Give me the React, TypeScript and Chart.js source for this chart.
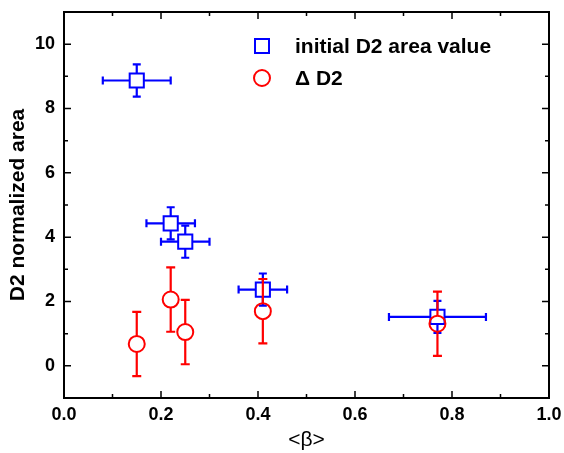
import React, { useEffect, useRef } from "react";
import { Chart, registerables } from "chart.js";

Chart.register(...registerables);

// ---- data ----
const initialX = [0.15, 0.22, 0.25, 0.41, 0.77];
const initialY = [8.87, 4.43, 3.86, 2.37, 1.52];
const initialXErr = [0.07, 0.05, 0.05, 0.05, 0.1];
const initialYErr = [0.5, 0.5, 0.5, 0.5, 0.5];

const deltaX = [0.15, 0.22, 0.25, 0.41, 0.77];
const deltaY = [0.68, 2.06, 1.05, 1.7, 1.31];
const deltaXErr = [0, 0, 0, 0, 0];
const deltaYErr = [1.0, 1.0, 1.0, 1.0, 1.0];

const seriesLabels = ["initial D2 area value", "\u0394 D2"];
const xTicks = [0, 0.2, 0.4, 0.6, 0.8, 1.0];
const xMinorTicks = [0.1, 0.3, 0.5, 0.7, 0.9];
const yTicks = [0, 2, 4, 6, 8, 10];
const yMinorTicks = [1, 3, 5, 7, 9];

const FONT = "'Liberation Sans', Arial, Helvetica, sans-serif";
const BLUE = "#0000ff";
const RED = "#ff0000";

const errorBarPlugin = {
  id: "errorBars",
  afterDatasetDraw(chart: any, args: any) {
    const ds = chart.data.datasets[args.index];
    const meta = args.meta;
    const xs = chart.scales.x;
    const ys = chart.scales.y;
    const ctx = chart.ctx;
    ctx.save();
    ctx.strokeStyle = ds.borderColor;
    ctx.lineWidth = 2.2;
    const gap = ds.errGap;
    const cap = ds.capHalf;
    meta.data.forEach((el: any, i: number) => {
      const raw = ds.data[i];
      const px = el.x;
      const py = el.y;
      const xe = ds.xErr[i];
      const ye = ds.yErr[i];
      ctx.beginPath();
      if (ye > 0) {
        const yTop = ys.getPixelForValue(raw.y + ye);
        const yBot = ys.getPixelForValue(raw.y - ye);
        ctx.moveTo(px, py - gap);
        ctx.lineTo(px, yTop);
        ctx.moveTo(px, py + gap);
        ctx.lineTo(px, yBot);
        ctx.moveTo(px - cap, yTop);
        ctx.lineTo(px + cap, yTop);
        ctx.moveTo(px - cap, yBot);
        ctx.lineTo(px + cap, yBot);
      }
      if (xe > 0) {
        const xL = xs.getPixelForValue(raw.x - xe);
        const xR = xs.getPixelForValue(raw.x + xe);
        ctx.moveTo(px - gap, py);
        ctx.lineTo(xL, py);
        ctx.moveTo(px + gap, py);
        ctx.lineTo(xR, py);
        ctx.moveTo(xL, py - cap);
        ctx.lineTo(xL, py + cap);
        ctx.moveTo(xR, py - cap);
        ctx.lineTo(xR, py + cap);
      }
      ctx.stroke();
    });
    ctx.restore();
  },
};

const framePlugin = {
  id: "frame",
  afterDraw(chart: any) {
    const { ctx, chartArea } = chart;
    const xs = chart.scales.x;
    const ys = chart.scales.y;
    const { left, right, top, bottom } = chartArea;
    ctx.save();
    ctx.strokeStyle = "#000";
    ctx.lineWidth = 2;
    ctx.strokeRect(left, top, right - left, bottom - top);
    ctx.lineWidth = 1.5;
    ctx.beginPath();
    const major = 7;
    const minor = 4;
    const xt = (v: number, len: number) => {
      const p = xs.getPixelForValue(v);
      ctx.moveTo(p, bottom);
      ctx.lineTo(p, bottom - len);
      ctx.moveTo(p, top);
      ctx.lineTo(p, top + len);
    };
    const yt = (v: number, len: number) => {
      const p = ys.getPixelForValue(v);
      ctx.moveTo(left, p);
      ctx.lineTo(left + len, p);
      ctx.moveTo(right, p);
      ctx.lineTo(right - len, p);
    };
    xTicks.forEach((v) => xt(v, major));
    xMinorTicks.forEach((v) => xt(v, minor));
    yTicks.forEach((v) => yt(v, major));
    yMinorTicks.forEach((v) => yt(v, minor));
    ctx.stroke();

    // legend
    const lx = 262;
    const rows = [46, 78];
    ctx.lineWidth = 2;
    ctx.strokeStyle = BLUE;
    ctx.strokeRect(lx - 7, rows[0] - 7, 14, 14);
    ctx.strokeStyle = RED;
    ctx.beginPath();
    ctx.arc(lx, rows[1], 8, 0, Math.PI * 2);
    ctx.stroke();
    ctx.fillStyle = "#000";
    ctx.font = `bold 21px ${FONT}`;
    ctx.textBaseline = "middle";
    ctx.textAlign = "left";
    ctx.fillText(seriesLabels[0], 295, rows[0] + 1);
    ctx.fillText(seriesLabels[1], 295, rows[1] + 1);
    ctx.restore();
  },
};

export default function App() {
  const ref = useRef<HTMLCanvasElement | null>(null);
  useEffect(() => {
    if (!ref.current) return;
    const chart = new Chart(ref.current, {
      type: "scatter",
      data: {
        datasets: [
          {
            label: seriesLabels[0],
            data: initialX.map((x, i) => ({ x, y: initialY[i] })),
            xErr: initialXErr,
            yErr: initialYErr,
            errGap: 7,
            capHalf: 4,
            pointStyle: "rect",
            pointRadius: 10,
            pointHoverRadius: 10,
            borderColor: BLUE,
            backgroundColor: "rgba(0,0,0,0)",
            borderWidth: 2,
            order: 2,
          } as any,
          {
            label: seriesLabels[1],
            data: deltaX.map((x, i) => ({ x, y: deltaY[i] })),
            xErr: deltaXErr,
            yErr: deltaYErr,
            errGap: 8,
            capHalf: 4.5,
            pointStyle: "circle",
            pointRadius: 8,
            pointHoverRadius: 8,
            borderColor: RED,
            backgroundColor: "rgba(0,0,0,0)",
            borderWidth: 2,
            order: 1,
          } as any,
        ],
      },
      options: {
        animation: false,
        responsive: false,
        layout: { padding: { left: 0, right: 15, top: 6, bottom: 0 } },
        plugins: {
          legend: { display: false },
          tooltip: { enabled: false },
        },
        scales: {
          x: {
            type: "linear",
            min: 0,
            max: 1,
            afterBuildTicks: (s: any) => {
              s.ticks = xTicks.map((v) => ({ value: v }));
            },
            afterFit: (s: any) => {
              s.height = 55;
              s.paddingLeft = 0;
              s.paddingRight = 0;
            },
            grid: { display: false, drawTicks: false },
            border: { display: false },
            ticks: {
              color: "#000",
              padding: 6,
              font: { family: FONT, size: 18, weight: "bold" },
              callback: (v: any) => Number(v).toFixed(1),
            },
            title: {
              display: true,
              text: "<\u03b2>",
              color: "#000",
              font: { family: FONT, size: 21, weight: "normal" },
              padding: { top: 0, bottom: 0 },
            },
          },
          y: {
            type: "linear",
            min: -1,
            max: 11,
            afterBuildTicks: (s: any) => {
              s.ticks = yTicks.map((v) => ({ value: v }));
            },
            afterFit: (s: any) => {
              s.width = 64;
              s.paddingTop = 0;
              s.paddingBottom = 0;
            },
            grid: { display: false, drawTicks: false },
            border: { display: false },
            ticks: {
              color: "#000",
              padding: 9,
              font: { family: FONT, size: 18, weight: "bold" },
              callback: (v: any) => String(v),
            },
            title: {
              display: true,
              text: "D2 normalized area",
              color: "#000",
              font: { family: FONT, size: 21, weight: "bold" },
              padding: { top: 6, bottom: 0 },
            },
          },
        },
      },
      plugins: [errorBarPlugin, framePlugin],
    } as any);
    return () => chart.destroy();
  }, []);
  return (
    <div style={{ position: "absolute", left: 0, top: 0, width: 564, height: 453, background: "#fff" }}>
      <canvas ref={ref} width={564} height={453} />
    </div>
  );
}
